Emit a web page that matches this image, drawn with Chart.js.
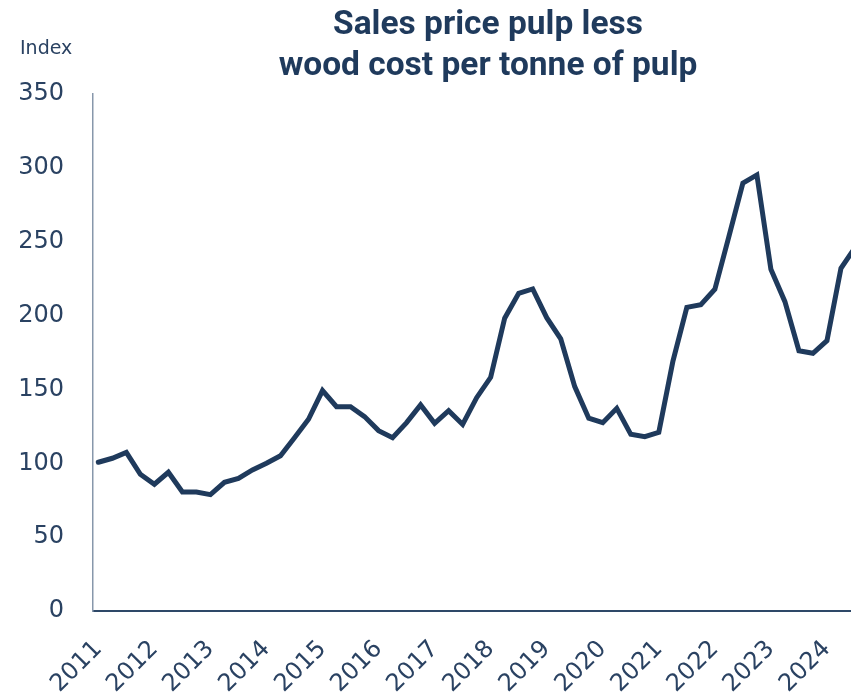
<!DOCTYPE html>
<html>
<head>
<meta charset="utf-8">
<script src="https://cdn.jsdelivr.net/npm/chart.js"></script>
<style>
  html, body { margin: 0; padding: 0; background: #ffffff; overflow: hidden; }
  #wrap { position: relative; width: 890px; height: 695px; }
</style>
</head>
<body>
<div id="wrap"><canvas id="chart"></canvas></div>
<script>
// Quarterly index, first point = 2011 Q1
const years = ['2011', '2012', '2013', '2014', '2015', '2016', '2017',
               '2018', '2019', '2020', '2021', '2022', '2023', '2024'];
const indexValues = [
    100.7, 103.4, 107.4, 92.5,     // 2011
    85.8, 93.9, 80.6, 80.6,        // 2012
    78.8, 87.1, 89.8, 95.5,        // 2013
    100.0, 105.1, 117.3, 129.8,    // 2014
    149.2, 138.3, 138.3, 131.6,    // 2015
    122.1, 117.3, 127.5, 139.5,    // 2016
    127.1, 135.6, 126.3, 144.4,    // 2017
    158.2, 198.2, 215.1, 218.0,    // 2018
    198.6, 184.2, 151.9, 130.5,    // 2019
    127.5, 137.2, 119.6, 118.0,    // 2020
    121.0, 168.8, 205.6, 207.4,    // 2021
    217.8, 253.4, 289.6, 295.2,    // 2022
    231.3, 209.4, 176.2, 174.5,    // 2023
    183.0, 232.0, 246.0            // 2024
];
const yTicks = [0, 50, 100, 150, 200, 250, 300, 350];
const titleLines = ['Sales price pulp less', 'wood cost per tonne of pulp'];
const yAxisTitle = 'Index';

const navy = '#1f3a5c';
const tickColor = '#2a4262';
const tickFont = { family: 'DejaVu Sans', size: 24 };

// title + "Index" drawn by hand so they can sit over the plot area
const headerPlugin = {
    id: 'header',
    afterDraw(chart) {
        const { ctx, chartArea } = chart;
        const cx = (chartArea.left + chartArea.right) / 2;
        ctx.save();
        ctx.fillStyle = navy;
        ctx.textAlign = 'center';
        ctx.textBaseline = 'alphabetic';
        ctx.font = 'bold 33.5px Roboto';
        ctx.fillText(titleLines[0], cx, 34);
        ctx.fillText(titleLines[1], cx, 75);
        ctx.textAlign = 'left';
        ctx.font = '19px "DejaVu Sans"';
        ctx.fillStyle = tickColor;
        ctx.fillText(yAxisTitle, 20, 54);
        ctx.restore();
    }
};

const ctx = document.getElementById('chart').getContext('2d');
new Chart(ctx, {
    type: 'line',
    data: {
        datasets: [{
            data: indexValues.map((v, i) => ({ x: i, y: v })),
            borderColor: navy,
            borderWidth: 5,
            borderJoinStyle: 'miter',
            borderCapStyle: 'round',
            pointRadius: 0,
            tension: 0,
            fill: false
        }]
    },
    options: {
        responsive: true,
        maintainAspectRatio: false,
        animation: false,
        devicePixelRatio: 1,
        layout: { padding: { top: 94, right: 7, bottom: 0, left: 0 } },
        plugins: {
            legend: { display: false },
            tooltip: { enabled: false },
            title: { display: false }
        },
        scales: {
            x: {
                type: 'linear',
                min: -0.38,
                max: 56,
                grid: { display: false },
                border: { display: true, color: '#2e4868', width: 2 },
                afterBuildTicks: (scale) => {
                    scale.ticks = years.map((y, j) => ({ value: j * 4 }));
                },
                afterFit: (scale) => { scale.height = 84; },
                ticks: {
                    autoSkip: false,
                    minRotation: 45,
                    maxRotation: 45,
                    padding: 16,
                    color: tickColor,
                    font: tickFont,
                    callback: (value) => years[Math.round(value / 4)]
                }
            },
            y: {
                min: 0,
                max: 350,
                grid: { display: false },
                border: { display: true, color: '#8797ab', width: 1.5 },
                afterBuildTicks: (scale) => {
                    scale.ticks = yTicks.map(v => ({ value: v }));
                },
                afterFit: (scale) => { scale.width = 93; },
                ticks: {
                    padding: 21,
                    color: tickColor,
                    font: tickFont
                }
            }
        }
    },
    plugins: [headerPlugin]
});
</script>
</body>
</html>
